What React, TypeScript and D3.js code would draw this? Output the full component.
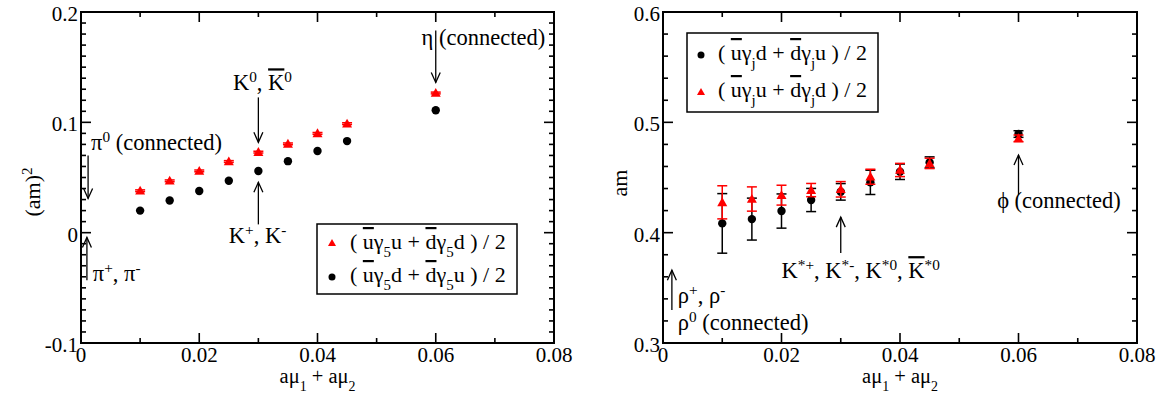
import React from "react";
import * as d3 from "d3";

// x values: a*mu1 + a*mu2
const muSum = [0.01, 0.015, 0.02, 0.025, 0.03, 0.035, 0.04, 0.045, 0.06];

// pseudoscalar (am)^2
const psDiag = [0.038, 0.047, 0.056, 0.0645, 0.073, 0.0805, 0.09, 0.0988, 0.1266];
const psDiagErr = [0.0008, 0.0008, 0.0008, 0.0008, 0.0008, 0.0008, 0.0008, 0.0008, 0.0008];
const psOff = [0.02, 0.0292, 0.0377, 0.0471, 0.0559, 0.0648, 0.074, 0.083, 0.1109];

// vector am
const vecOff = [0.4084, 0.4123, 0.4196, 0.4296, 0.437, 0.4456, 0.4552, 0.4637, 0.4894];
const vecOffErr = [0.027, 0.019, 0.0155, 0.0105, 0.0075, 0.011, 0.007, 0.005, 0.003];
const vecDiag = [0.4275, 0.4305, 0.434, 0.4386, 0.4393, 0.4507, 0.4568, 0.4628, 0.4855];
const vecDiagErr = [0.015, 0.011, 0.009, 0.006, 0.007, 0.0068, 0.006, 0.0047, 0.003];

// ticks
const xTicks = [0, 0.02, 0.04, 0.06, 0.08];
const xTickLabels = ["0", "0.02", "0.04", "0.06", "0.08"];
const psYTicks = [-0.1, 0, 0.1, 0.2];
const psYTickLabels = ["-0.1", "0", "0.1", "0.2"];
const vecYTicks = [0.3, 0.4, 0.5, 0.6];
const vecYTickLabels = ["0.3", "0.4", "0.5", "0.6"];

const FONT = "'Liberation Serif', 'Times New Roman', serif";
const FS = 21;
const AFS = 22.5; // annotation size
const RED = "#ff0000";

// rich text: [text, kind]
const Rich = ({ x, y, segs, fill = "#000", anchor = "start", size = FS, transform }: any) => (
  <text
    x={x}
    y={y}
    fill={fill}
    textAnchor={anchor}
    transform={transform}
    style={{ whiteSpace: "pre", fontFamily: FONT, fontSize: size }}
  >
    {segs.map(([t, k]: [string, string], i: number) => {
      if (k === "sup")
        return (
          <tspan key={i} baselineShift="super" style={{ fontSize: size * 0.68 }}>
            {t}
          </tspan>
        );
      if (k === "sub")
        return (
          <tspan key={i} baselineShift="sub" style={{ fontSize: size * 0.68 }}>
            {t}
          </tspan>
        );
      if (k === "over")
        return (
          <tspan key={i} style={{ textDecoration: "overline" }}>
            {t}
          </tspan>
        );
      return <tspan key={i}>{t}</tspan>;
    })}
  </text>
);

const Arrow = ({ x, y1, y2 }: any) => {
  // line from y1 to y2, open head at y2
  const dir = y2 > y1 ? -1 : 1;
  return (
    <g stroke="#000" strokeWidth={1.3} fill="none">
      <line x1={x} x2={x} y1={y1} y2={y2} />
      <path d={`M${x - 4.5},${y2 + dir * 10}L${x},${y2}L${x + 4.5},${y2 + dir * 10}`} />
    </g>
  );
};

const tri = (cx: number, cy: number, w = 10) =>
  `M${cx - w / 2},${cy + w * 0.38}L${cx + w / 2},${cy + w * 0.38}L${cx},${cy - w * 0.5}Z`;

const Frame = ({ x, y, yTicks, yTickLabels, yMinor }: any) => {
  const [x0, x1] = x.range();
  const [y1, y0] = y.range();
  const xMinor = d3.range(0.01, 0.08, 0.02);
  const yd = y.domain();
  const yMin = d3.range(yd[0], yd[1] + 1e-9, yMinor).filter(
    (v: number) => !yTicks.some((t: number) => Math.abs(t - v) < 1e-9)
  );
  const ts = { fontFamily: FONT, fontSize: FS };
  return (
    <g>
      <g stroke="#000" strokeWidth={1.6}>
        {xTicks.map((t) => (
          <g key={"xt" + t}>
            <line x1={x(t)} x2={x(t)} y1={y1} y2={y1 - 10} />
            <line x1={x(t)} x2={x(t)} y1={y0} y2={y0 + 10} />
          </g>
        ))}
        {xMinor.map((t) => (
          <g key={"xm" + t}>
            <line x1={x(t)} x2={x(t)} y1={y1} y2={y1 - 5} />
            <line x1={x(t)} x2={x(t)} y1={y0} y2={y0 + 5} />
          </g>
        ))}
        {yTicks.map((t: number) => (
          <g key={"yt" + t}>
            <line x1={x0} x2={x0 + 10} y1={y(t)} y2={y(t)} />
            <line x1={x1} x2={x1 - 10} y1={y(t)} y2={y(t)} />
          </g>
        ))}
        {yMin.map((t: number) => (
          <g key={"ym" + t}>
            <line x1={x0} x2={x0 + 5} y1={y(t)} y2={y(t)} />
            <line x1={x1} x2={x1 - 5} y1={y(t)} y2={y(t)} />
          </g>
        ))}
      </g>
      <rect x={x0} y={y0} width={x1 - x0} height={y1 - y0} fill="none" stroke="#000" strokeWidth={2} />
      {xTicks.map((t, i) => (
        <text key={"xl" + t} x={x(t)} y={y1 + 19} textAnchor="middle" style={ts}>
          {xTickLabels[i]}
        </text>
      ))}
      {yTicks.map((t: number, i: number) => (
        <text key={"yl" + t} x={x0 - 3} y={y(t) + 9} textAnchor="end" style={ts}>
          {yTickLabels[i]}
        </text>
      ))}
      <Rich
        x={(x0 + x1) / 2}
        y={y1 + 40}
        anchor="middle"
        size={20.5}
        segs={[["a\u03bc", ""], ["1", "sub"], [" + a\u03bc", ""], ["2", "sub"]]}
      />
    </g>
  );
};

const PsPanel = () => {
  const x = d3.scaleLinear().domain([0, 0.08]).range([81, 554]);
  const y = d3.scaleLinear().domain([-0.1, 0.2]).range([343, 12]);
  return (
    <g>
      <Frame x={x} y={y} yTicks={psYTicks} yTickLabels={psYTickLabels} yMinor={0.01} />
      <Rich x={0} y={0} size={22} transform={`translate(40,192) rotate(-90)`} anchor="middle" segs={[["(am)", ""], ["2", "sup"]]} />
      {muSum.map((m, i) => (
        <g key={"r" + i} stroke={RED} strokeWidth={1.5}>
          <line x1={x(m)} x2={x(m)} y1={y(psDiag[i] - psDiagErr[i])} y2={y(psDiag[i] + psDiagErr[i])} />
          <line x1={x(m) - 5} x2={x(m) + 5} y1={y(psDiag[i] - psDiagErr[i])} y2={y(psDiag[i] - psDiagErr[i])} />
          <line x1={x(m) - 5} x2={x(m) + 5} y1={y(psDiag[i] + psDiagErr[i])} y2={y(psDiag[i] + psDiagErr[i])} />
          <path d={tri(x(m), y(psDiag[i]))} fill={RED} stroke="none" />
        </g>
      ))}
      {muSum.map((m, i) => (
        <circle key={"b" + i} cx={x(m)} cy={y(psOff[i])} r={4.2} fill="#000" />
      ))}
      {/* annotations */}
      <Rich x={x(0.0017)} y={y(0.0746)} size={AFS} segs={[["\u03c0", ""], ["0", "sup"], [" (connected)", ""]]} />
      <Arrow x={x(0.0012)} y1={y(0.07)} y2={y(0.031)} />
      <Rich x={x(0.002)} y={y(-0.044)} size={AFS} segs={[["\u03c0", ""], ["+", "sup"], [", \u03c0", ""], ["-", "sup"]]} />
      <Arrow x={x(0.001)} y1={y(-0.0432)} y2={y(-0.0043)} />
      <Rich x={x(0.0257)} y={y(0.129)} size={AFS} segs={[["K", ""], ["0", "sup"], [", ", ""], ["K", "over"], ["0", "sup"]]} />
      <Arrow x={x(0.03)} y1={y(0.1226)} y2={y(0.0819)} />
      <Rich x={x(0.025)} y={y(-0.0097)} size={AFS} segs={[["K", ""], ["+", "sup"], [", K", ""], ["-", "sup"]]} />
      <Arrow x={x(0.03)} y1={y(0.0075)} y2={y(0.0456)} />
      <Rich x={x(0.0576)} y={y(0.17)} size={AFS} segs={[["\u03b7 (connected)", ""]]} />
      <Arrow x={x(0.06)} y1={y(0.1832)} y2={y(0.1362)} />
      {/* legend */}
      <rect x={317} y={224} width={200} height={70} fill="#fff" stroke="#000" strokeWidth={1.5} />
      <path d={tri(332, 243, 8)} fill={RED} />
      <Rich
        x={350}
        y={249}
        size={22}
        segs={[["( ", ""], ["u", "over"], ["\u03b3", ""], ["5", "sub"], ["u + ", ""], ["d", "over"], ["\u03b3", ""], ["5", "sub"], ["d ) / 2", ""]]}
      />
      <circle cx={332} cy={277} r={3.5} fill="#000" />
      <Rich
        x={350}
        y={282}
        size={22}
        segs={[["( ", ""], ["u", "over"], ["\u03b3", ""], ["5", "sub"], ["d + ", ""], ["d", "over"], ["\u03b3", ""], ["5", "sub"], ["u ) / 2", ""]]}
      />
    </g>
  );
};

const VecPanel = () => {
  const x = d3.scaleLinear().domain([0, 0.08]).range([663, 1137]);
  const y = d3.scaleLinear().domain([0.3, 0.6]).range([343, 12]);
  const errBar = (m: number, v: number, e: number, color: string, key: string) => (
    <g key={key} stroke={color} strokeWidth={1.5}>
      <line x1={x(m)} x2={x(m)} y1={y(v - e)} y2={y(v + e)} />
      <line x1={x(m) - 5} x2={x(m) + 5} y1={y(v - e)} y2={y(v - e)} />
      <line x1={x(m) - 5} x2={x(m) + 5} y1={y(v + e)} y2={y(v + e)} />
    </g>
  );
  return (
    <g>
      <Frame x={x} y={y} yTicks={vecYTicks} yTickLabels={vecYTickLabels} yMinor={0.02} />
      <Rich x={0} y={0} size={22} transform={`translate(627,183) rotate(-90)`} anchor="middle" segs={[["am", ""]]} />
      {muSum.map((m, i) => errBar(m, vecOff[i], vecOffErr[i], "#000", "be" + i))}
      {muSum.map((m, i) => (
        <circle key={"b" + i} cx={x(m)} cy={y(vecOff[i])} r={4.2} fill="#000" />
      ))}
      {muSum.map((m, i) => errBar(m, vecDiag[i], vecDiagErr[i], RED, "re" + i))}
      {muSum.map((m, i) => (
        <path key={"r" + i} d={tri(x(m), y(vecDiag[i]))} fill={RED} />
      ))}
      {/* annotations */}
      <Rich
        x={x(0.02)}
        y={y(0.3588)}
        size={AFS}
        segs={[
          ["K", ""], ["*+", "sup"], [", K", ""], ["*-", "sup"], [", K", ""], ["*0", "sup"], [", ", ""], ["K", "over"], ["*0", "sup"],
        ]}
      />
      <Arrow x={x(0.03)} y1={y(0.3815)} y2={y(0.4141)} />
      <Rich x={x(0.0025)} y={y(0.3362)} size={AFS} segs={[["\u03c1", ""], ["+", "sup"], [", \u03c1", ""], ["-", "sup"]]} />
      <Rich x={x(0.0025)} y={y(0.3117)} size={AFS} segs={[["\u03c1", ""], ["0", "sup"], [" (connected)", ""]]} />
      <Arrow x={x(0.0015)} y1={y(0.3298)} y2={y(0.366)} />
      <Rich x={x(0.0564)} y={y(0.4223)} size={AFS} segs={[["\u03d5 (connected)", ""]]} />
      <Arrow x={x(0.06)} y1={y(0.434)} y2={y(0.4704)} />
      {/* legend */}
      <rect x={687} y={33} width={191} height={79} fill="#fff" stroke="#000" strokeWidth={1.5} />
      <circle cx={701} cy={55} r={3.5} fill="#000" />
      <Rich
        x={718}
        y={60}
        size={22}
        segs={[["( ", ""], ["u", "over"], ["\u03b3", ""], ["j", "sub"], ["d + ", ""], ["d", "over"], ["\u03b3", ""], ["j", "sub"], ["u ) / 2", ""]]}
      />
      <path d={tri(701, 92, 8)} fill={RED} />
      <Rich
        x={718}
        y={97}
        size={22}
        segs={[["( ", ""], ["u", "over"], ["\u03b3", ""], ["j", "sub"], ["u + ", ""], ["d", "over"], ["\u03b3", ""], ["j", "sub"], ["d ) / 2", ""]]}
      />
    </g>
  );
};

export default function App() {
  return (
    <svg
      width={1168}
      height={399}
      style={{ position: "absolute", left: 0, top: 0, background: "#fff" }}
    >
      <PsPanel />
      <VecPanel />
    </svg>
  );
}
